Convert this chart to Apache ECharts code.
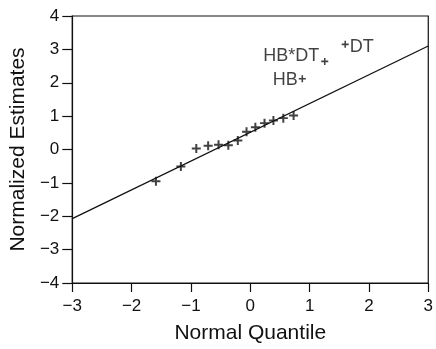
<!DOCTYPE html>
<html>
<head>
<meta charset="utf-8">
<script src="https://cdn.jsdelivr.net/npm/echarts@6/dist/echarts.min.js"></script>
<style>
  html, body { margin: 0; padding: 0; background: #fff; }
  #chart { width: 436px; height: 349px; }
</style>
</head>
<body>
<div id="chart"></div>
<script>
// Normal probability plot of standardized effect estimates
const normalQuantiles = [-1.59, -1.17, -0.91, -0.71, -0.535, -0.37, -0.21, -0.063, 0.086, 0.24, 0.39, 0.557, 0.73];
const normalizedEstimates = [-0.95, -0.51, 0.03, 0.11, 0.14, 0.13, 0.27, 0.53, 0.67, 0.79, 0.87, 0.94, 1.02];

// Effects that stand out from the reference line
const effectNames = ['HB', 'HB*DT', 'DT'];
const effectQuantiles = [0.877, 1.255, 1.6];
const effectEstimates = [2.12, 2.64, 3.15];

// Fitted reference line, evaluated at the axis ends
const lineQuantiles = [-3, 3];
const lineEstimates = [-2.07, 3.1];

const xTicks = [-3, -2, -1, 0, 1, 2, 3];
const yTicks = [-4, -3, -2, -1, 0, 1, 2, 3, 4];

const ink = '#111';
const font = 'Liberation Sans, Arial, Helvetica, sans-serif';
const plusPath = 'path://M3.9,0H6.1V3.9H10V6.1H6.1V10H3.9V6.1H0V3.9H3.9Z';
const fmt = v => (v < 0 ? '\u2212' + Math.abs(v) : String(v));

const labelSetup = {
  'HB':    { position: 'left',  offset: [1, 1] },
  'HB*DT': { position: 'left',  offset: [0, -5] },
  'DT':    { position: 'right', offset: [-1, 3] }
};

const chart = echarts.init(document.getElementById('chart'), null, { renderer: 'canvas' });
chart.setOption({
  backgroundColor: '#fff',
  animation: false,
  grid: { left: 70, right: 5, top: 16, bottom: 61, show: true, borderColor: ink, borderWidth: 1.2 },
  xAxis: {
    type: 'value', min: xTicks[0], max: xTicks[xTicks.length - 1], interval: 1,
    name: 'Normal Quantile', nameLocation: 'middle', nameGap: 40,
    nameTextStyle: { fontFamily: font, fontSize: 21, color: ink },
    axisLine: { onZero: false, lineStyle: { color: ink, width: 1.2 } },
    axisTick: { length: 9, lineStyle: { color: ink, width: 1.2 } },
    axisLabel: { fontFamily: font, fontSize: 17, color: ink, margin: 15, formatter: fmt },
    splitLine: { show: false }
  },
  yAxis: {
    type: 'value', min: yTicks[0], max: yTicks[yTicks.length - 1], interval: 1,
    name: 'Normalized Estimates', nameLocation: 'middle', nameGap: 40,
    nameTextStyle: { fontFamily: font, fontSize: 21, color: ink },
    axisLine: { onZero: false, lineStyle: { color: ink, width: 1.2 } },
    axisTick: { length: 10, lineStyle: { color: ink, width: 1.2 } },
    axisLabel: { fontFamily: font, fontSize: 17, color: ink, margin: 13, formatter: fmt },
    splitLine: { show: false }
  },
  series: [
    {
      type: 'line',
      data: lineQuantiles.map((q, i) => [q, lineEstimates[i]]),
      showSymbol: false,
      lineStyle: { color: ink, width: 1.3 },
      silent: true
    },
    {
      type: 'scatter',
      data: normalQuantiles.map((q, i) => [q, normalizedEstimates[i]]),
      symbol: plusPath, symbolSize: 9,
      itemStyle: { color: ink }
    },
    {
      type: 'scatter',
      data: effectNames.map((n, i) => ({
        value: [effectQuantiles[i], effectEstimates[i]],
        label: Object.assign({ show: true, formatter: n, distance: 2 }, labelSetup[n])
      })),
      symbol: plusPath, symbolSize: 7,
      itemStyle: { color: ink },
      label: { fontFamily: font, fontSize: 18, color: ink }
    }
  ]
});
</script>
</body>
</html>
